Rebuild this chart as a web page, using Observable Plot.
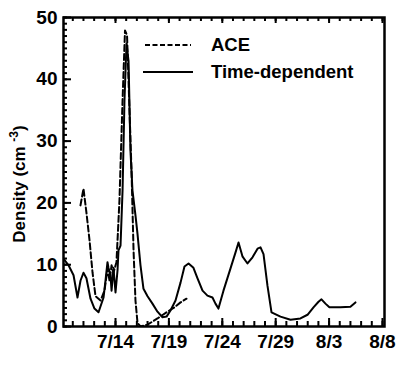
<!DOCTYPE html>
<html>
<head>
<meta charset="utf-8">
<script src="https://cdn.jsdelivr.net/npm/d3@7"></script>
<script src="https://cdn.jsdelivr.net/npm/@observablehq/plot@0.6"></script>
<style>
  html, body { margin: 0; padding: 0; background: white; }
  #chart svg { display: block; }
  #chart svg text { font-weight: bold; font-family: 'Liberation Sans', Arial, sans-serif; }
</style>
</head>
<body>
<div id="chart"></div>
<script>
// Time in days of July (32 = Aug 1, 34 = Aug 3, 39 = Aug 8)
const timeDepDays = [9.13, 9.60, 10.07, 10.44, 10.72, 11.00, 11.28, 11.66, 12.03, 12.41, 12.88, 13.06, 13.25, 13.34, 13.53, 13.63, 13.81, 14.00, 14.19, 14.28, 14.47, 14.66, 14.84, 15.03, 15.22, 15.40, 15.59, 15.87, 16.06, 16.34, 16.62, 17.00, 17.46, 17.93, 18.40, 18.78, 19.15, 19.62, 20.09, 20.46, 20.84, 21.30, 21.68, 22.15, 22.61, 23.08, 23.36, 23.64, 24.11, 24.77, 25.24, 25.52, 25.90, 26.36, 26.83, 27.30, 27.58, 27.86, 28.23, 28.61, 29.45, 30.39, 31.32, 31.98, 32.54, 33.01, 33.29, 33.66, 34.03, 35.07, 36.00, 36.47];
const timeDepDensity = [11.0, 9.9, 8.3, 4.7, 7.4, 8.7, 7.8, 4.5, 2.9, 2.3, 4.7, 7.4, 10.4, 9.5, 8.3, 5.8, 9.5, 5.5, 9.1, 12.3, 13.1, 22.0, 36.6, 45.8, 43.0, 28.5, 22.0, 18.0, 15.0, 9.9, 6.1, 4.9, 3.7, 2.4, 1.5, 1.6, 2.6, 4.2, 7.1, 9.7, 10.2, 9.5, 7.8, 5.8, 5.0, 4.7, 3.7, 2.9, 5.8, 9.4, 12.0, 13.6, 11.3, 10.2, 11.2, 12.6, 12.8, 11.7, 6.6, 2.3, 1.6, 1.1, 1.3, 1.9, 3.1, 4.0, 4.4, 3.7, 3.1, 3.1, 3.2, 3.9];

const aceDays = [10.72, 11.00, 11.28, 11.57, 11.85, 12.13, 12.60, 12.97, 13.25, 13.44, 13.63, 13.81, 14.09, 14.37, 14.66, 14.89, 15.08, 15.31, 15.50, 15.69, 15.87, 16.06, 16.34, 17.00, 17.93, 18.87, 19.52, 20.09, 20.65];
const aceDensity = [19.6, 22.3, 18.4, 13.9, 8.7, 4.9, 4.2, 5.8, 9.4, 7.4, 9.9, 8.7, 10.4, 20.4, 36.6, 47.9, 47.1, 35.0, 25.2, 12.3, 4.2, 0.6, 0.0, 0.3, 1.3, 2.4, 3.1, 3.9, 4.5];

const xTicks = [14, 19, 24, 29, 34, 39];
const xTickLabels = ["7/14", "7/19", "7/24", "7/29", "8/3", "8/8"];
const yTicks = [0, 10, 20, 30, 40, 50];
const seriesNames = ["ACE", "Time-dependent"];

const timeDep = timeDepDays.map((d, i) => ({d, v: timeDepDensity[i]}));
const ace = aceDays.map((d, i) => ({d, v: aceDensity[i]}));

const W = 418, H = 380, mL = 63, mR = 34, mT = 17, mB = 54;
const plotH = H - mT - mB, plotW = W - mL - mR;
const xMinor = d3.range(10, 40);
const xMajor = xTicks;
const yMinor = d3.range(0, 51);

const chart = Plot.plot({
  width: W, height: H,
  marginLeft: mL, marginRight: mR, marginTop: mT, marginBottom: mB,
  x: {domain: [9.13, 39.19]},
  y: {domain: [0, 50]},
  style: {fontFamily: "'Liberation Sans', Arial, sans-serif", fontSize: "19px", background: "white", color: "black"},
  marks: [
    Plot.line(timeDep, {x: "d", y: "v", stroke: "black", strokeWidth: 2, clip: true}),
    Plot.line(ace, {x: "d", y: "v", stroke: "black", strokeWidth: 2, strokeDasharray: "6,3", clip: true}),
    // bottom ticks (inward)
    Plot.ruleX(xMinor, {stroke: "black", strokeWidth: 2, insetTop: plotH - 5}),
    Plot.ruleX(xMajor, {stroke: "black", strokeWidth: 2, insetTop: plotH - 8}),
    // top ticks (inward)
    Plot.ruleX(xMinor, {stroke: "black", strokeWidth: 2, insetBottom: plotH - 4}),
    Plot.ruleX(xMajor, {stroke: "black", strokeWidth: 2, insetBottom: plotH - 6}),
    // left ticks (inward)
    Plot.ruleY(yMinor, {stroke: "black", strokeWidth: 2, insetRight: plotW - 4}),
    Plot.ruleY(yTicks, {stroke: "black", strokeWidth: 2, insetRight: plotW - 8}),
    Plot.axisX({ticks: xTicks, tickSize: 0, tickPadding: 8, tickFormat: d => xTickLabels[xTicks.indexOf(d)], label: null, fontSize: 19}),
    Plot.axisY({ticks: yTicks, tickSize: 0, tickPadding: 6, label: null, fontSize: 19}),
    Plot.frame({stroke: "black", strokeWidth: 2.5})
  ]
});

const svg = d3.select(chart);
// y-axis label with superscript
const yl = svg.append("text")
  .attr("transform", "translate(25,184) rotate(-90)")
  .attr("text-anchor", "middle")
  .attr("font-size", 17)
  .attr("fill", "black");
yl.append("tspan").text("Density (cm ");
yl.append("tspan").attr("font-size", 12).attr("dy", -7).text("-3");
yl.append("tspan").attr("dy", 7).text(")");

// legend
const lg = svg.append("g").attr("font-size", 18.5).attr("text-anchor", "start").attr("fill", "black");
lg.append("line").attr("x1", 145).attr("x2", 191).attr("y1", 45).attr("y2", 45)
  .attr("stroke", "black").attr("stroke-width", 2).attr("stroke-dasharray", "5,2.5");
lg.append("text").attr("x", 211).attr("y", 45).attr("dy", "0.35em").text(seriesNames[0]);
lg.append("line").attr("x1", 143).attr("x2", 193).attr("y1", 72).attr("y2", 72)
  .attr("stroke", "black").attr("stroke-width", 2);
lg.append("text").attr("x", 211).attr("y", 72).attr("dy", "0.35em").text(seriesNames[1]);

document.getElementById("chart").appendChild(chart);
</script>
</body>
</html>
